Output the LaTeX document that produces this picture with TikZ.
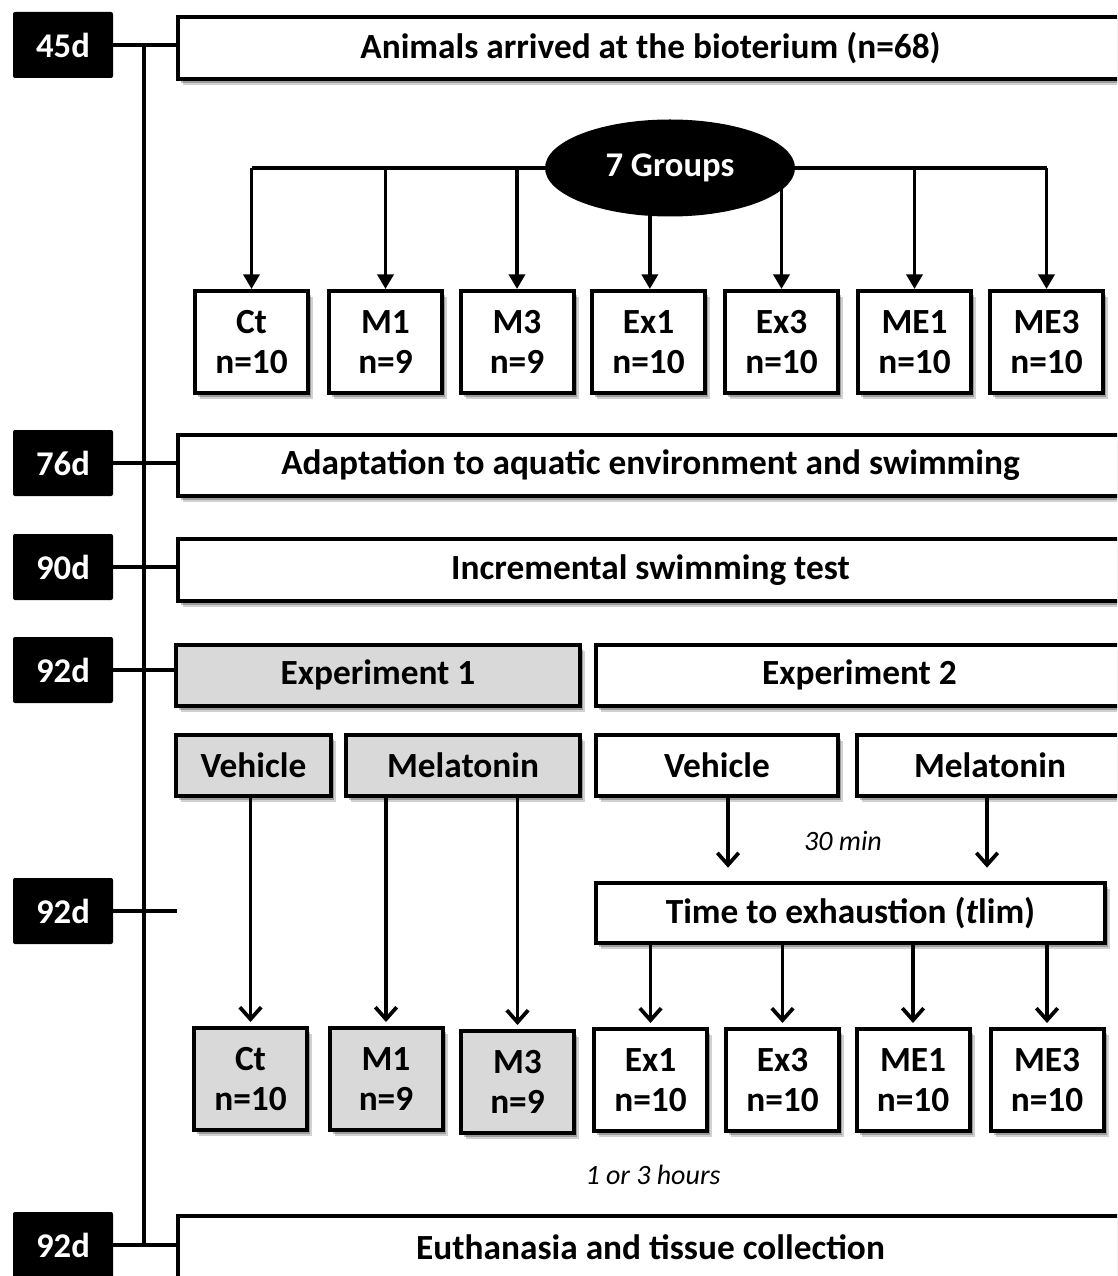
\documentclass[tikz,border=0pt]{standalone}
\usepackage{fontspec}
\setmainfont{Carlito}
\usetikzlibrary{shapes.geometric,arrows.meta,shadows}
\definecolor{boxgray}{HTML}{D9D9D9}
\pgfdeclarelayer{bg}
\pgfsetlayers{bg,main}
\tikzset{
  sz/.style 2 args={minimum width=#1*0.75pt-3pt, minimum height=#2*0.75pt-3pt},
  base/.style={draw=black, line width=3pt, align=center, inner sep=0pt,
    font=\fontsize{26.5}{30}\selectfont\bfseries,
    drop shadow={shadow xshift=4pt, shadow yshift=-4.5pt, opacity=0.18, fill=black},
    drop shadow={shadow xshift=2.5pt, shadow yshift=-3pt, opacity=0.25, fill=black}},
  wbox/.style={base, fill=white},
  gbox/.style={base, fill=boxgray},
  daybox/.style={fill=black, text=white, rounded corners=1.5pt, minimum width=75pt,
    minimum height=49.5pt, inner sep=0pt, font=\fontsize{26}{30}\selectfont\bfseries},
  ln/.style={line width=2.8pt},
  tarr/.style={ln, -{Triangle[length=11pt,width=12pt]}},
  barb/.style={ln, -{Straight Barb[length=9pt,width=16pt]}},
  note/.style={font=\fontsize{21}{25}\selectfont\itshape, inner sep=0pt}
}
\begin{document}
\begin{tikzpicture}[x=0.75pt,y=-0.75pt]
\clip (0,0) rectangle (1117,1276);
\begin{pgfonlayer}{bg}
\fill[white] (0,0) rectangle (1117,1276);
\end{pgfonlayer}

% day labels
\node[daybox] (d45) at (63,45) {45d};
\node[daybox] (d76) at (63,463) {76d};
\node[daybox] (d90) at (63,567) {90d};
\node[daybox] (d92a) at (63,670) {92d};
\node[daybox] (d92b) at (63,911) {92d};
\node[daybox] (d92c) at (63,1245) {92d};

% wide boxes
\node[wbox, sz={949}{66}] (animals) at (650.5,48) {Animals arrived at the bioterium (n=68)};
\node[wbox, sz={949}{65}] (adapt) at (650.5,465) {Adaptation to aquatic environment and swimming};
\node[wbox, sz={949}{66}] (incr) at (650.5,570) {Incremental swimming test};
\node[gbox, sz={408}{65}] (exp1) at (378,675) {Experiment 1};
\node[wbox, sz={531}{65}] (exp2) at (859.5,675) {Experiment 2};
\node[gbox, sz={159}{65}] (veh1) at (253.5,765.5) {Vehicle};
\node[gbox, sz={238}{65}] (mel1) at (463,765.5) {Melatonin};
\node[wbox, sz={246}{65}] (veh2) at (717,765.5) {Vehicle};
\node[wbox, sz={270}{65}] (mel2) at (990,765.5) {Melatonin};
\node[wbox, sz={513}{64}] (time) at (850.5,913) {Time to exhaustion (\textit{t}lim)};
\node[wbox, sz={949}{66}] (eut) at (650.5,1247) {Euthanasia and tissue collection};

% ellipse
\node[ellipse, fill=black, text=white, minimum width=187.5pt, minimum height=72.75pt,
  inner sep=0pt, font=\fontsize{26}{30}\selectfont\bfseries] (groups) at (670,168) {7 Groups};

% top group boxes
\node[wbox, sz={117}{106}] (ct1) at (251.5,342) {Ct\\n=10};
\node[wbox, sz={117}{106}] (m11) at (385.5,342) {M1\\n=9};
\node[wbox, sz={117}{106}] (m31) at (517,342) {M3\\n=9};
\node[wbox, sz={117}{106}] (ex11) at (648.5,342) {Ex1\\n=10};
\node[wbox, sz={117}{106}] (ex31) at (781.5,342) {Ex3\\n=10};
\node[wbox, sz={117}{106}] (me11) at (914.5,342) {ME1\\n=10};
\node[wbox, sz={117}{106}] (me31) at (1046.5,342) {ME3\\n=10};

% bottom group boxes
\node[gbox, sz={117}{106}] (ct2) at (250.5,1079) {Ct\\n=10};
\node[gbox, sz={117}{106}] (m12) at (386,1079) {M1\\n=9};
\node[gbox, sz={117}{106}] (m32) at (517.5,1082) {M3\\n=9};
\node[wbox, sz={117}{106}] (ex12) at (650.5,1080) {Ex1\\n=10};
\node[wbox, sz={117}{106}] (ex32) at (782.5,1080) {Ex3\\n=10};
\node[wbox, sz={117}{106}] (me12) at (913,1080) {ME1\\n=10};
\node[wbox, sz={117}{106}] (me32) at (1047,1080) {ME3\\n=10};

% notes
\node[note] (n30) at (843,841) {30 min};
\node[note] (n13) at (653,1175) {1 or 3 hours};

% timeline
\coordinate (tl) at (144,0);
\coordinate (tk) at (177,911);
\begin{pgfonlayer}{bg}
\draw[ln] (d45.east -| tl) -- (d92c.east -| tl);
\draw[ln] (d45.east) -- (d45.east -| animals.west);
\draw[ln] (d76.east) -- (d76.east -| adapt.west);
\draw[ln] (d90.east) -- (d90.east -| incr.west);
\draw[ln] (d92a.east) -- (d92a.east -| exp1.west);
\draw[ln] (d92b.east) -- (tk);
\draw[ln] (d92c.east) -- (d92c.east -| eut.west);

% group connectors
\draw[ln] (ct1.north |- groups.center) -- (me31.north |- groups.center);
\draw[tarr] (ct1.north |- groups.center) -- (ct1.north);
\draw[tarr] (m11.north |- groups.center) -- (m11.north);
\draw[tarr] (m31.north |- groups.center) -- (m31.north);
\draw[tarr] ([xshift=1pt]ex11.north |- groups.center) -- ([xshift=1pt]ex11.north);
\draw[tarr] (ex31.north |- groups.center) -- (ex31.north);
\draw[tarr] (me11.north |- groups.center) -- (me11.north);
\draw[tarr] (me31.north |- groups.center) -- (me31.north);
\end{pgfonlayer}

% experiment connectors
\draw[barb, shorten >=3pt] (ct2.north |- veh1.south) -- (ct2.north);
\draw[barb, shorten >=3pt] (m12.north |- mel1.south) -- (m12.north);
\draw[barb, shorten >=3pt] (m32.north |- mel1.south) -- (m32.north);
\draw[barb, shorten >=10pt] ([xshift=8.25pt]veh2.south) -- ([xshift=8.25pt]veh2.south |- time.north);
\draw[barb, shorten >=10pt] ([xshift=-2.25pt]mel2.south) -- ([xshift=-2.25pt]mel2.south |- time.north);
\draw[barb, shorten >=3pt] (ex12.north |- time.south) -- (ex12.north);
\draw[barb, shorten >=3pt] (ex32.north |- time.south) -- (ex32.north);
\draw[barb, shorten >=3pt] (me12.north |- time.south) -- (me12.north);
\draw[barb, shorten >=3pt] (me32.north |- time.south) -- (me32.north);
\end{tikzpicture}
\end{document}
